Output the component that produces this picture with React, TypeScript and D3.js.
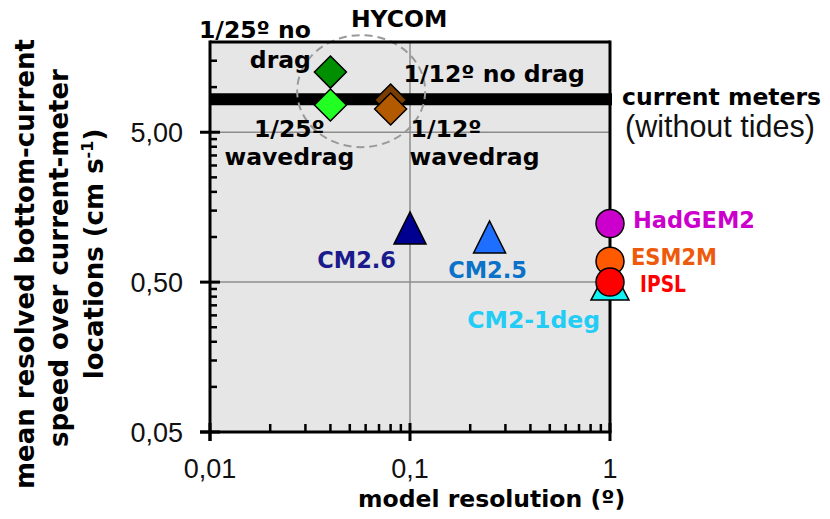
import React from "react";
import * as d3 from "d3";

// ---------- data ----------
const xTickValues = [0.01, 0.1, 1];
const xTickLabels = ["0,01", "0,1", "1"];
const yTickValues = [0.05, 0.5, 5];
const yTickLabels = ["0,05", "0,50", "5,00"];

const hycomNames = ["1/25º no drag", "1/25º wavedrag", "1/12º no drag", "1/12º wavedrag"];
const hycomRes = [0.04, 0.04, 0.08, 0.08];
const hycomSpeed = [12.6, 7.6, 8.2, 7.15];

const cmNames = ["CM2.6", "CM2.5", "CM2-1deg"];
const cmRes = [0.1, 0.25, 1];
const cmSpeed = [1.15, 1.0, 0.5];

const cmipNames = ["HadGEM2", "ESM2M", "IPSL"];
const cmipRes = [1, 1, 1];
const cmipSpeed = [1.23, 0.69, 0.5];

const currentMeterSpeed = 8.3;

// ---------- style ----------
const W = 830, H = 519;
const FONT = "'DejaVu Sans', sans-serif";
const THIN = "'Liberation Sans', Arial, sans-serif";
const hycomFill = ["#008f00", "#22ff22", "#7a3d00", "#b35900"];
const cmFill = ["#000090", "#1e6fff", "#11f2f2"];
const cmLabelColor = ["#1a1a8c", "#0a72c8", "#22ccf5"];
const cmSize = [[32, 32], [32, 32], [38, 36]];
const cmipFill = ["#cc00cc", "#ff5a00", "#ff0000"];
const cmipLabelColor = ["#cc00cc", "#ee5a0c", "#ff0000"];

export default function App() {
  const x = d3.scaleLog().domain([0.01, 1]).range([210, 610]);
  const y = d3.scaleLog().domain([0.05, 20]).range([432, 42]);
  const [x0, x1] = x.range();
  const [y0, y1] = y.range();

  const xMinor: number[] = [];
  [0.01, 0.1].forEach((d) => { for (let k = 2; k <= 9; k++) xMinor.push(d * k); });
  const yMinor: number[] = [];
  [0.05, 0.5, 5].forEach((d) => { for (let k = 2; k <= 9; k++) if (d * k < 20) yMinor.push(d * k); });

  const diamond = (cx: number, cy: number, r: number) =>
    `M${cx},${cy - r}L${cx + r},${cy}L${cx},${cy + r}L${cx - r},${cy}Z`;
  const tri = (cx: number, cy: number, w: number, h: number) =>
    `M${cx},${cy - h / 2}L${cx + w / 2},${cy + h / 2}L${cx - w / 2},${cy + h / 2}Z`;

  const hx = hycomRes.map((v) => x(v));
  const hy = hycomSpeed.map((v) => y(v));
  const ellCx = x(0.057), ellCy = y(9.4);
  const cmY = y(currentMeterSpeed);

  const bold = { fontFamily: FONT, fontWeight: 700, fontSize: 23.5 } as const;

  return (
    <svg width={W} height={H} style={{ position: "absolute", left: 0, top: 0, background: "#fff" }}>
      {/* plot background */}
      <rect x={x0} y={y1} width={x1 - x0} height={y0 - y1} fill="#e6e6e6" />
      {/* grid */}
      <line x1={x(0.1)} x2={x(0.1)} y1={y1} y2={y0} stroke="#8c8c8c" strokeWidth={1.5} />
      {[0.5, 5].map((v) => (
        <line key={v} x1={x0} x2={x1} y1={y(v)} y2={y(v)} stroke="#8c8c8c" strokeWidth={1.5} />
      ))}
      {/* current meters line */}
      <line x1={x0} x2={x1 + 2} y1={cmY} y2={cmY} stroke="#000" strokeWidth={12} />
      {/* HYCOM ellipse */}
      <ellipse cx={ellCx} cy={ellCy} rx={64} ry={56} fill="none" stroke="#999" strokeWidth={2} strokeDasharray="8 5" />

      {/* frame */}
      <line x1={x0} x2={x1} y1={y1} y2={y1} stroke="#000" strokeWidth={3} />
      <line x1={x1} x2={x1} y1={y1 - 1.5} y2={y0} stroke="#000" strokeWidth={3} />
      <line x1={x0} x2={x0} y1={y1 - 1.5} y2={y0 + 9} stroke="#000" strokeWidth={3} />
      <line x1={x0 - 10} x2={x1 + 1.5} y1={y0} y2={y0} stroke="#000" strokeWidth={3} />
      {/* ticks */}
      {xTickValues.map((v) => (
        <line key={"xt" + v} x1={x(v)} x2={x(v)} y1={y0 - 9} y2={y0 + 9} stroke="#000" strokeWidth={3} />
      ))}
      {xMinor.map((v) => (
        <line key={"xm" + v} x1={x(v)} x2={x(v)} y1={y0 - 8} y2={y0} stroke="#000" strokeWidth={2.5} />
      ))}
      {yTickValues.map((v) => (
        <line key={"yt" + v} x1={x0 - 10} x2={x0 + 10} y1={y(v)} y2={y(v)} stroke="#000" strokeWidth={3} />
      ))}
      {yMinor.map((v) => (
        <line key={"ym" + v} x1={x0} x2={x0 + 7} y1={y(v)} y2={y(v)} stroke="#000" strokeWidth={2.5} />
      ))}
      {/* tick labels */}
      {xTickValues.map((v, i) => (
        <text key={"xl" + v} x={x(v)} y={y0 + 46} textAnchor="middle" fontFamily={THIN} fontSize={27} fill="#111">
          {xTickLabels[i]}
        </text>
      ))}
      {yTickValues.map((v, i) => (
        <text key={"yl" + v} x={x0 - 27} y={y(v) + 10} textAnchor="end" fontFamily={THIN} fontSize={27} fill="#111">
          {yTickLabels[i]}
        </text>
      ))}

      {/* axis titles */}
      <text x={358} y={507} {...bold}>model resolution (º)</text>
      <g fontFamily={FONT} fontWeight={700} fontSize={26} textAnchor="middle">
        <text transform="translate(34,264) rotate(-90)">mean resolved bottom-current</text>
        <text transform="translate(68,258) rotate(-90)">speed over current-meter</text>
        <text transform="translate(103,254) rotate(-90)">
          locations (cm s<tspan fontSize={16} dy={-10}>-1</tspan><tspan dy={10}>)</tspan>
        </text>
      </g>

      {/* HYCOM markers */}
      {hycomNames.map((n, i) => (
        <path key={n} d={diamond(hx[i], hy[i], 16)} fill={hycomFill[i]} stroke="#000" strokeWidth={1.5} />
      ))}
      {/* CM triangles */}
      {cmNames.map((n, i) => (
        <path key={n} d={tri(x(cmRes[i]), y(cmSpeed[i]), cmSize[i][0], cmSize[i][1])} fill={cmFill[i]} stroke="#000" strokeWidth={1.5} />
      ))}
      {/* CMIP circles */}
      {cmipNames.map((n, i) => (
        <circle key={n} cx={x(cmipRes[i])} cy={y(cmipSpeed[i])} r={14} fill={cmipFill[i]} stroke="#000" strokeWidth={1.5} />
      ))}

      {/* HYCOM labels */}
      <text x={ellCx + 38} y={27} textAnchor="middle" {...bold}>HYCOM</text>
      <text x={hx[0] - 19.5} y={hy[0] - 34} textAnchor="end" {...bold}>1/25º no</text>
      <text x={hx[0] - 19.5} y={hy[0] - 4} textAnchor="end" {...bold}>drag</text>
      <text x={hx[1] - 41} y={hy[1] + 32} textAnchor="middle" {...bold}>1/25º</text>
      <text x={hx[1] - 41} y={hy[1] + 60} textAnchor="middle" {...bold}>wavedrag</text>
      <text x={hx[2] + 13} y={hy[2] - 18} {...bold}>1/12º no drag</text>
      <text x={hx[3] + 20} y={hy[3] + 28} {...bold}>1/12º</text>
      <text x={hx[3] + 19} y={hy[3] + 56} {...bold}>wavedrag</text>

      {/* current meters label */}
      <text x={x1 + 12} y={cmY + 6} {...bold}>current meters</text>
      <text x={x1 + 15} y={cmY + 38} fontFamily={THIN} fontSize={30.5} fill="#111">(without tides)</text>

      {/* CM labels */}
      <text x={x(cmRes[0]) - 14} y={y(cmSpeed[0]) + 40} textAnchor="end" fontFamily={FONT} fontWeight={700} fontSize={22.5} fill={cmLabelColor[0]}>{cmNames[0]}</text>
      <text x={x(cmRes[1]) - 2} y={y(cmSpeed[1]) + 41} textAnchor="middle" fontFamily={FONT} fontWeight={700} fontSize={22.5} fill={cmLabelColor[1]}>{cmNames[1]}</text>
      <text x={x(cmRes[2]) - 10} y={y(cmSpeed[2]) + 46} textAnchor="end" fontFamily={FONT} fontWeight={700} fontSize={23.5} fill={cmLabelColor[2]}>{cmNames[2]}</text>

      {/* CMIP labels */}
      <text x={x(cmipRes[0]) + 23} y={y(cmipSpeed[0]) + 4} fontFamily={FONT} fontWeight={700} fontSize={22.5} fill={cmipLabelColor[0]}>{cmipNames[0]}</text>
      <text x={x(cmipRes[1]) + 21} y={y(cmipSpeed[1]) + 4} fontFamily={FONT} fontWeight={700} fontSize={22.5} textLength={86} lengthAdjust="spacingAndGlyphs" fill={cmipLabelColor[1]}>{cmipNames[1]}</text>
      <text x={x(cmipRes[2]) + 30} y={y(cmipSpeed[2]) + 10} fontFamily={FONT} fontWeight={700} fontSize={22.5} textLength={46} lengthAdjust="spacingAndGlyphs" fill={cmipLabelColor[2]}>{cmipNames[2]}</text>
    </svg>
  );
}
